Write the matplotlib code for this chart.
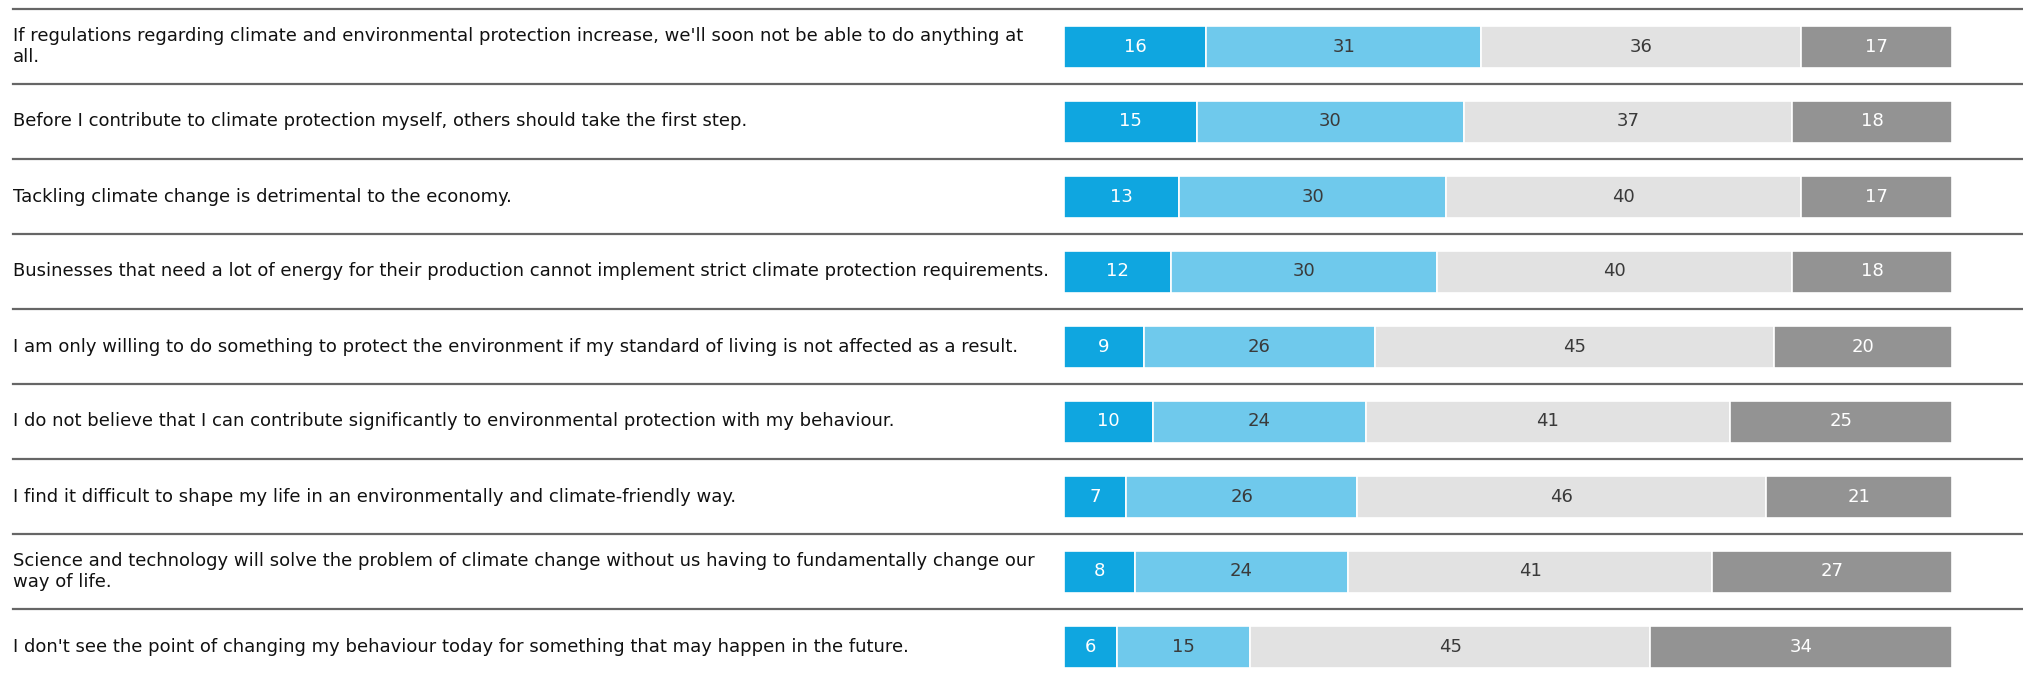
import matplotlib
matplotlib.use("Agg")
import matplotlib.pyplot as plt
import matplotlib.transforms as mtransforms

# statements (top to bottom)
statements = [
    "If regulations regarding climate and environmental protection increase, we'll soon not be able to do anything at\nall.",
    "Before I contribute to climate protection myself, others should take the first step.",
    "Tackling climate change is detrimental to the economy.",
    "Businesses that need a lot of energy for their production cannot implement strict climate protection requirements.",
    "I am only willing to do something to protect the environment if my standard of living is not affected as a result.",
    "I do not believe that I can contribute significantly to environmental protection with my behaviour.",
    "I find it difficult to shape my life in an environmentally and climate-friendly way.",
    "Science and technology will solve the problem of climate change without us having to fundamentally change our\nway of life.",
    "I don't see the point of changing my behaviour today for something that may happen in the future.",
]

# shares in % per answer category
fully_agree = [16, 15, 13, 12, 9, 10, 7, 8, 6]
rather_agree = [31, 30, 30, 30, 26, 24, 26, 24, 15]
rather_disagree = [36, 37, 40, 40, 45, 41, 46, 41, 45]
fully_disagree = [17, 18, 17, 18, 20, 25, 21, 27, 34]

series = [fully_agree, rather_agree, rather_disagree, fully_disagree]
colors = ["#0fa6e0", "#6fc9ec", "#e2e2e2", "#939393"]
text_colors = ["white", "#3a3a3a", "#3a3a3a", "white"]

plt.rcParams["font.family"] = ["DejaVu Sans"]

W, H = 2024, 680
fig = plt.figure(figsize=(W / 100, H / 100), dpi=100)

# bar area in pixels
x0, x1 = 1064, 1952
row_h = 75
first_c = 46.5
ax = fig.add_axes([x0 / W, 0, (x1 - x0) / W, 1])
ax.set_xlim(0, 100)
ax.set_ylim((H - first_c) / row_h, -first_c / row_h)
ax.axis("off")

n = len(statements)
ys = list(range(n))
left = [0] * n
for vals, col, tcol in zip(series, colors, text_colors):
    ax.barh(ys, vals, left=left, height=0.56, color=col,
            edgecolor="white", linewidth=1.2)
    for y, v, l in zip(ys, vals, left):
        ax.text(l + v / 2, y, str(v), ha="center", va="center",
                fontsize=13, color=tcol)
    left = [l + v for l, v in zip(left, vals)]

# labels and separator lines (figure x, data y)
trans = mtransforms.blended_transform_factory(fig.transFigure, ax.transData)
for y, s in zip(ys, statements):
    ax.text(13 / W, y, s, transform=trans, ha="left", va="center",
            fontsize=13, color="#111111", linespacing=1.2)
    ax.plot([13 / W, 1.0], [y - 0.5, y - 0.5], transform=trans,
            color="#666666", linewidth=1.6, clip_on=False)

fig.savefig("out.png", dpi=100)
